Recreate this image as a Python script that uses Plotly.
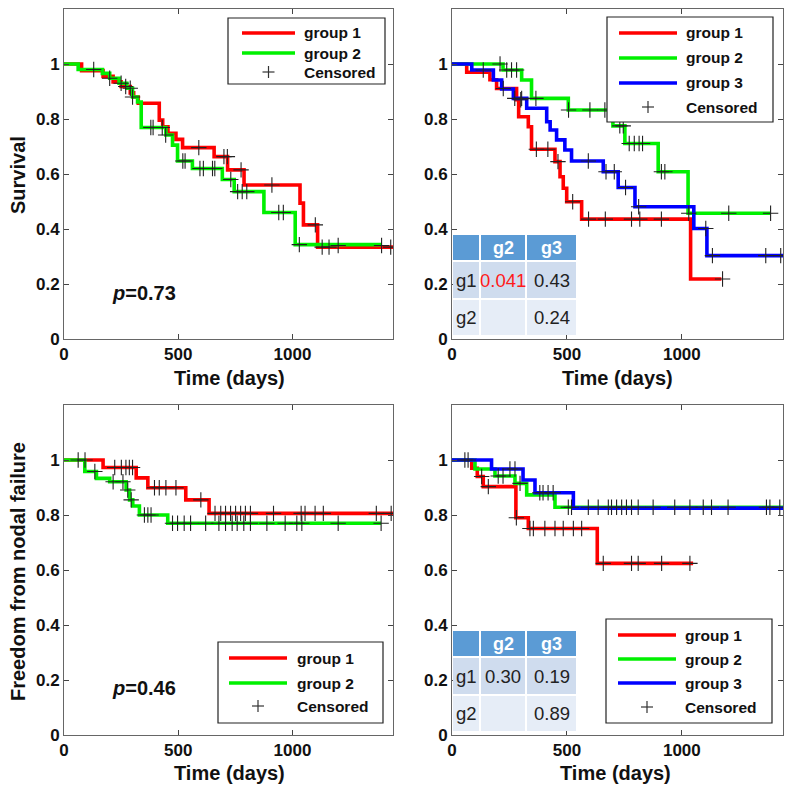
import plotly.graph_objects as go

FONT = "Liberation Sans, Arial, Helvetica, sans-serif"
W, H = 800, 792
RED, GREEN, BLUE = "#ff0000", "#00f000", "#0000ff"

# ---------------- data ----------------
# Panel A (top-left): Survival, 2 groups
a_g1_t = [0, 77, 171, 215, 250, 290, 305, 325, 417, 432, 455, 490, 519, 657, 716, 788, 1033, 1048, 1110, 1440]
a_g1_s = [1.0, 0.976, 0.955, 0.935, 0.918, 0.895, 0.88, 0.857, 0.796, 0.772, 0.748, 0.726, 0.696, 0.663, 0.615, 0.56, 0.494, 0.415, 0.334, 0.334]
a_g2_t = [0, 62, 168, 200, 241, 275, 300, 322, 338, 446, 475, 497, 562, 693, 745, 875, 1012, 1390]
a_g2_s = [1.0, 0.98, 0.966, 0.948, 0.93, 0.912, 0.88, 0.862, 0.769, 0.742, 0.705, 0.647, 0.62, 0.58, 0.536, 0.46, 0.343, 0.343]
a_cens_t = [130, 200, 250, 270, 290, 300, 380, 390, 430, 445, 520, 530, 590, 595, 610, 650, 660, 700, 715, 730, 760, 775, 780, 800, 910, 940, 960, 1030, 1100, 1130, 1160, 1200, 1390, 1430]
a_cens_s = [0.98, 0.948, 0.93, 0.918, 0.912, 0.88, 0.769, 0.769, 0.769, 0.742, 0.647, 0.647, 0.696, 0.62, 0.62, 0.62, 0.62, 0.663, 0.663, 0.58, 0.536, 0.615, 0.536, 0.536, 0.56, 0.46, 0.46, 0.343, 0.415, 0.334, 0.334, 0.34, 0.34, 0.334]
a_pvalue = "0.73"

# Panel B (top-right): Survival, 3 groups
b_g1_t = [0, 64, 165, 194, 281, 290, 332, 346, 448, 470, 484, 499, 564, 1038, 1172]
b_g1_s = [1.0, 0.97, 0.943, 0.911, 0.87, 0.808, 0.772, 0.69, 0.645, 0.59, 0.548, 0.499, 0.436, 0.218, 0.218]
b_g2_t = [0, 222, 303, 346, 506, 700, 752, 897, 1027, 1386]
b_g2_s = [1.0, 0.978, 0.942, 0.875, 0.833, 0.775, 0.711, 0.608, 0.457, 0.457]
b_g3_t = [0, 86, 180, 216, 267, 325, 412, 427, 455, 491, 520, 658, 723, 796, 1052, 1109, 1440]
b_g3_s = [1.0, 0.978, 0.942, 0.909, 0.875, 0.839, 0.79, 0.76, 0.724, 0.687, 0.647, 0.608, 0.551, 0.481, 0.402, 0.303, 0.303]
b_cens_t = [136, 209, 223, 238, 259, 273, 281, 299, 303, 365, 367, 417, 461, 507, 525, 593, 594, 600, 665, 667, 670, 706, 730, 745, 755, 771,
            781, 793, 812, 814, 817, 829, 911, 911, 926, 1030, 1104, 1133, 1177, 1204, 1365, 1386, 1430]
b_cens_s = [0.978, 1.0, 0.911, 0.978, 0.978, 0.875, 0.978, 0.87, 0.875, 0.875, 0.69, 0.69, 0.645, 0.833, 0.499, 0.647, 0.436, 0.833, 0.833, 0.436, 0.608, 0.608, 0.775, 0.775, 0.551, 0.711,
            0.436, 0.711, 0.481, 0.711, 0.436, 0.711, 0.436, 0.608, 0.608, 0.457, 0.402, 0.303, 0.218, 0.457, 0.303, 0.457, 0.303]
b_table_header = ["", "g2", "g3"]
b_table_rows = [["g1", "0.041", "0.43"], ["g2", "", "0.24"]]
b_table_red = [(0, 1)]

# Panel C (bottom-left): Freedom from nodal failure, 2 groups
c_g1_t = [0, 171, 316, 367, 533, 635, 1440]
c_g1_s = [1.0, 0.973, 0.935, 0.899, 0.855, 0.806, 0.806]
c_g2_t = [0, 91, 142, 200, 272, 287, 301, 330, 454, 1388]
c_g2_s = [1.0, 0.958, 0.933, 0.921, 0.891, 0.855, 0.833, 0.80, 0.77, 0.77]
c_cens_t = [62, 92, 135, 215, 222, 251, 258, 271, 279, 286, 294, 300, 352, 367, 381, 396, 417, 446, 490, 599,
            661, 686, 707, 729, 751, 773, 794, 816, 917, 1038, 1055, 1099, 1135, 1367, 1432,
            475, 497, 526, 554, 620, 678, 707, 736, 758, 787, 816, 888, 968, 1019, 1041, 1200, 1388]
c_cens_s = [1.0, 1.0, 0.958, 0.921, 0.973, 0.973, 0.921, 0.973, 0.891, 0.973, 0.855, 0.973, 0.80, 0.80, 0.80, 0.899, 0.899, 0.899, 0.899, 0.855,
            0.806, 0.806, 0.806, 0.806, 0.806, 0.806, 0.806, 0.806, 0.806, 0.806, 0.806, 0.806, 0.806, 0.806, 0.806,
            0.77, 0.77, 0.77, 0.77, 0.77, 0.77, 0.77, 0.77, 0.77, 0.77, 0.77, 0.77, 0.77, 0.77, 0.77, 0.77, 0.77]
c_pvalue = "0.46"

# Panel D (bottom-right): Freedom from nodal failure, 3 groups
d_g1_t = [0, 86, 110, 136, 278, 332, 632, 1049]
d_g1_s = [1.0, 0.97, 0.94, 0.903, 0.79, 0.751, 0.624, 0.624]
d_g2_t = [0, 100, 187, 274, 325, 448, 1440]
d_g2_s = [1.0, 0.967, 0.942, 0.915, 0.873, 0.828, 0.828]
d_g3_t = [0, 172, 309, 361, 528, 1440]
d_g3_s = [1.0, 0.967, 0.927, 0.881, 0.825, 0.825]
d_cens_t = [56, 70, 129, 158, 280, 339, 354, 404, 448, 484, 528, 564, 658, 781, 810, 912, 1035,
            201, 222, 252, 274, 296, 382, 396, 418, 440, 506, 520, 593, 636, 680, 694, 716, 738, 759, 781, 810,
            875, 969, 1035, 1093, 1129, 1201, 1368, 1383, 1426]
d_cens_s = [1.0, 1.0, 0.94, 0.903, 0.79, 0.751, 0.751, 0.751, 0.751, 0.751, 0.751, 0.751, 0.624, 0.624, 0.624, 0.624, 0.624,
            0.942, 0.942, 0.967, 0.967, 0.915, 0.881, 0.881, 0.881, 0.881, 0.828, 0.828, 0.828, 0.828, 0.828, 0.828, 0.828, 0.828, 0.828, 0.828, 0.828,
            0.828, 0.828, 0.828, 0.828, 0.828, 0.828, 0.828, 0.828, 0.828]
d_table_header = ["", "g2", "g3"]
d_table_rows = [["g1", "0.30", "0.19"], ["g2", "", "0.89"]]

x_tickvals = [0, 500, 1000]
y_tickvals = [0, 0.2, 0.4, 0.6, 0.8, 1]
y_ticktext = ["0", "0.2", "0.4", "0.6", "0.8", "1"]
x_title = "Time (days)"
y_title_top = "Survival"
y_title_bottom = "Freedom from nodal failure"
group_names = ["group 1", "group 2", "group 3"]
censor_label = "Censored"

# ---------------- layout geometry (pixels) ----------------
def px(x):
    return x / W

def py(y):
    return 1 - y / H

panels = [
    dict(xl=64, xr=393, yt=9, yb=339),
    dict(xl=452, xr=783, yt=9, yb=339),
    dict(xl=64, xr=393, yt=405, yb=735),
    dict(xl=452, xr=783, yt=405, yb=735),
]

fig = go.Figure()
cross = dict(symbol="cross-thin", size=11, color="#222", line=dict(width=1.1, color="#222"))


def add_panel(i, curves, cens_t, cens_s):
    sfx = "" if i == 0 else str(i + 1)
    for (t, s, name, col) in curves:
        fig.add_trace(go.Scatter(x=t, y=s, mode="lines", line=dict(color=col, width=3.6, shape="hv"),
                                 name=name, xaxis="x" + sfx, yaxis="y" + sfx, showlegend=False))
    fig.add_trace(go.Scatter(x=cens_t, y=cens_s, mode="markers", marker=cross, name=censor_label,
                             xaxis="x" + sfx, yaxis="y" + sfx, showlegend=False))


add_panel(0, [(a_g1_t, a_g1_s, group_names[0], RED), (a_g2_t, a_g2_s, group_names[1], GREEN)], a_cens_t, a_cens_s)
add_panel(1, [(b_g1_t, b_g1_s, group_names[0], RED), (b_g2_t, b_g2_s, group_names[1], GREEN),
              (b_g3_t, b_g3_s, group_names[2], BLUE)], b_cens_t, b_cens_s)
add_panel(2, [(c_g1_t, c_g1_s, group_names[0], RED), (c_g2_t, c_g2_s, group_names[1], GREEN)], c_cens_t, c_cens_s)
add_panel(3, [(d_g1_t, d_g1_s, group_names[0], RED), (d_g2_t, d_g2_s, group_names[1], GREEN),
              (d_g3_t, d_g3_s, group_names[2], BLUE)], d_cens_t, d_cens_s)

tickfont = dict(family=FONT, size=17, color="#111", weight="bold")
layout = dict(width=W, height=H, margin=dict(l=0, r=0, t=0, b=0),
              plot_bgcolor="white", paper_bgcolor="white", showlegend=False)

for i, p in enumerate(panels):
    sfx = "" if i == 0 else str(i + 1)
    common = dict(showline=True, linecolor="#666", linewidth=1, mirror="ticks", ticks="inside", ticklen=5,
                  tickcolor="#444", showgrid=False, zeroline=False, tickfont=tickfont, automargin=False)
    layout["xaxis" + sfx] = dict(domain=[px(p["xl"]), px(p["xr"])], anchor="y" + sfx, range=[0, 1440],
                                 tickvals=x_tickvals, ticktext=[str(v) for v in x_tickvals], **common)
    layout["yaxis" + sfx] = dict(domain=[py(p["yb"]), py(p["yt"])], anchor="x" + sfx, range=[0, 1.2],
                                 tickvals=y_tickvals, ticktext=y_ticktext, **common)

annotations = []
shapes = []

# axis titles
tfont = dict(family=FONT, size=20, color="#111", weight="bold")
for cx, cy in [(230, 378), (617, 378), (230, 773), (615, 773)]:
    annotations.append(dict(text=x_title, x=px(cx), y=py(cy), xref="paper", yref="paper",
                            showarrow=False, font=tfont, xanchor="center", yanchor="middle"))
annotations.append(dict(text=y_title_top, x=px(18), y=py(175), xref="paper", yref="paper", textangle=-90,
                        showarrow=False, font=tfont, xanchor="center", yanchor="middle"))
annotations.append(dict(text=y_title_bottom, x=px(18), y=py(572), xref="paper", yref="paper", textangle=-90,
                        showarrow=False, font=tfont, xanchor="center", yanchor="middle"))

# p-values
pfont = dict(family=FONT, size=20, color="#111", weight="bold")
for pv, cy in [(a_pvalue, 293), (c_pvalue, 688)]:
    annotations.append(dict(text="<i>p</i>=" + pv, x=px(110), y=py(cy), xref="paper", yref="paper",
                            showarrow=False, font=pfont, xanchor="left", yanchor="middle"))

# legends (boxes drawn in paper coordinates)
lfont = dict(family=FONT, size=15.5, color="#111", weight="bold")


def add_legend(box, line_x, text_x, rows_y, labels, colors):
    x0, y0, x1, y1 = box
    shapes.append(dict(type="rect", xref="paper", yref="paper", x0=px(x0), x1=px(x1), y0=py(y1), y1=py(y0),
                       fillcolor="white", line=dict(color="#222", width=1.2), layer="above"))
    for k, (lab, yy) in enumerate(zip(labels, rows_y)):
        col = colors[k]
        if col is not None:
            shapes.append(dict(type="line", xref="paper", yref="paper", x0=px(line_x[0]), x1=px(line_x[1]),
                               y0=py(yy), y1=py(yy), line=dict(color=col, width=3.6), layer="above"))
        else:
            cxm = (line_x[0] + line_x[1]) / 2
            shapes.append(dict(type="line", xref="paper", yref="paper", x0=px(cxm - 6), x1=px(cxm + 6),
                               y0=py(yy), y1=py(yy), line=dict(color="#333", width=1.2), layer="above"))
            shapes.append(dict(type="line", xref="paper", yref="paper", x0=px(cxm), x1=px(cxm),
                               y0=py(yy - 6), y1=py(yy + 6), line=dict(color="#333", width=1.2), layer="above"))
        annotations.append(dict(text=lab, x=px(text_x), y=py(yy), xref="paper", yref="paper", showarrow=False,
                                xanchor="left", yanchor="middle", font=lfont))


add_legend((228, 18, 385, 84), (242, 295), 302, [33, 53, 72],
           group_names[:2] + [censor_label], [RED, GREEN, None])
add_legend((607, 17, 773, 122), (619, 677), 684, [33, 58, 83, 107],
           group_names + [censor_label], [RED, GREEN, BLUE, None])
add_legend((218, 642, 383, 723), (229, 287), 295, [658, 683, 706],
           group_names[:2] + [censor_label], [RED, GREEN, None])
add_legend((606, 619, 772, 723), (618, 676), 683, [635, 659, 683, 707],
           group_names + [censor_label], [RED, GREEN, BLUE, None])

# p-value tables
col_x = [(453, 479), (481, 525), (527, 576)]
HEAD = "#5b9bd5"
ROWBG = ["#cfdcee", "#e6edf7"]


def add_table(top, header, rows, red_cells):
    row_y = [(top, top + 25), (top + 27, top + 63), (top + 65, top + 100)]
    for j, (x0, x1) in enumerate(col_x):
        y0, y1 = row_y[0]
        shapes.append(dict(type="rect", xref="paper", yref="paper", x0=px(x0), x1=px(x1), y0=py(y1), y1=py(y0),
                           fillcolor=HEAD, line=dict(width=0), layer="above"))
        if header[j]:
            annotations.append(dict(text=header[j], x=px((x0 + x1) / 2), y=py((y0 + y1) / 2), xref="paper",
                                    yref="paper", showarrow=False, xanchor="center", yanchor="middle",
                                    font=dict(family=FONT, size=18, color="white", weight="bold")))
    for r, row in enumerate(rows):
        y0, y1 = row_y[r + 1]
        for j, (x0, x1) in enumerate(col_x):
            shapes.append(dict(type="rect", xref="paper", yref="paper", x0=px(x0), x1=px(x1), y0=py(y1), y1=py(y0),
                               fillcolor=ROWBG[r], line=dict(width=0), layer="above"))
            if row[j]:
                col = "#ff1a1a" if (r, j) in red_cells else "#222"
                annotations.append(dict(text=row[j], x=px((x0 + x1) / 2), y=py((y0 + y1) / 2), xref="paper",
                                        yref="paper", showarrow=False, xanchor="center", yanchor="middle",
                                        font=dict(family=FONT, size=18.5, color=col)))


add_table(235, b_table_header, b_table_rows, b_table_red)
add_table(631, d_table_header, d_table_rows, [])

layout["annotations"] = annotations
layout["shapes"] = shapes
fig.update_layout(**layout)
fig.write_html("out.html", config={"displayModeBar": False},
               post_script="document.body.style.margin='0px';")
